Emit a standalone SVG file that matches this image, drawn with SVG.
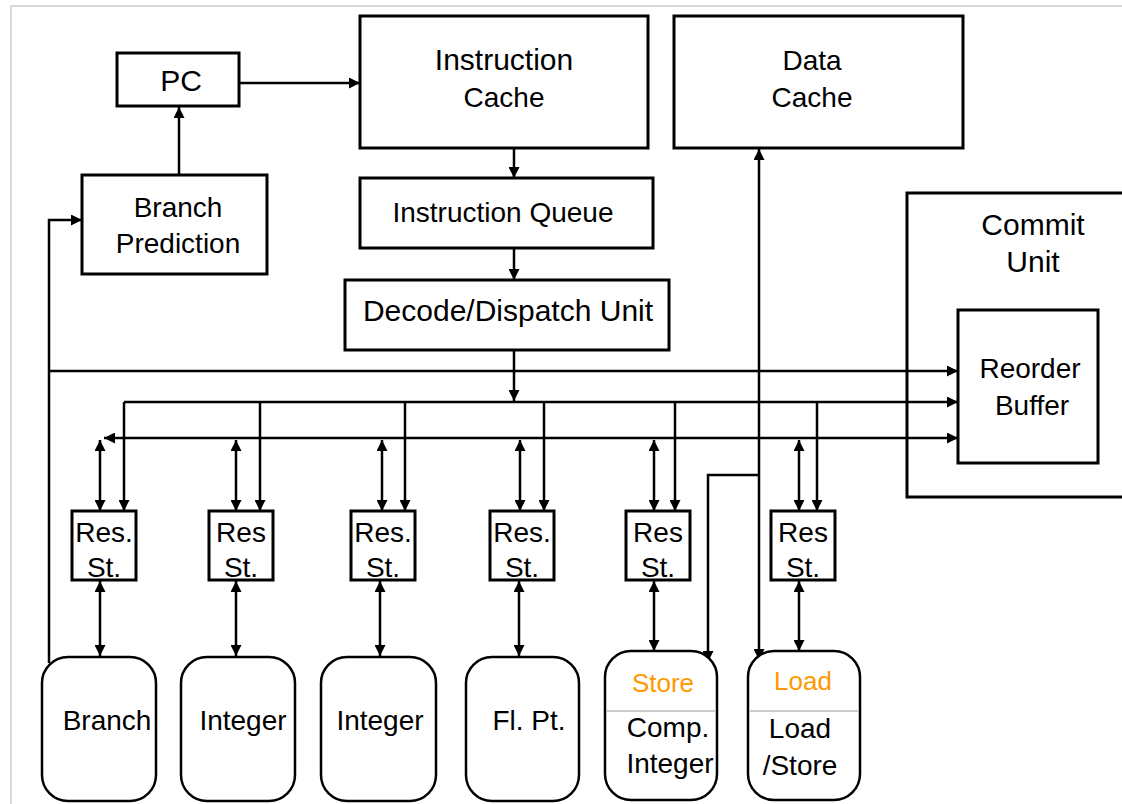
<svg xmlns="http://www.w3.org/2000/svg" width="1122" height="804" viewBox="0 0 1122 804">
<style>
.box{fill:#fff;stroke:#000;stroke-width:3}
.unit{fill:#fff;stroke:#000;stroke-width:2.5}
.ln{fill:none;stroke:#000;stroke-width:2.5}
.t{font-family:"Liberation Sans",Arial,sans-serif;font-size:28px;fill:#000;text-anchor:middle}
.big{font-size:30px}
.or{fill:#FF9900;font-size:26px}
.div{stroke:#bbb;stroke-width:1.5}
</style>
<defs>
<marker id="ah" markerUnits="userSpaceOnUse" markerWidth="11" markerHeight="11" refX="10" refY="5" orient="auto-start-reverse" viewBox="0 0 10 10">
<path d="M0,0 L10,5 L0,10 z" fill="#000"/>
</marker>
</defs>
<rect x="0" y="0" width="1122" height="804" fill="#fff"/>
<path d="M11,804 V6 H1122" fill="none" stroke="#ccc" stroke-width="1.5"/>

<g id="connectors">
<line class="ln" x1="239" y1="83" x2="360" y2="83" marker-end="url(#ah)"/>
<line class="ln" x1="179" y1="175" x2="179" y2="107" marker-end="url(#ah)"/>
<path class="ln" d="M49,663 V220 H82" marker-end="url(#ah)"/>
<line class="ln" x1="514" y1="148" x2="514" y2="178" marker-end="url(#ah)"/>
<line class="ln" x1="514" y1="248" x2="514" y2="280" marker-end="url(#ah)"/>
<line class="ln" x1="514" y1="350" x2="514" y2="401" marker-end="url(#ah)"/>
<line class="ln" x1="49" y1="371" x2="958" y2="371" marker-end="url(#ah)"/>
<line class="ln" x1="124" y1="402" x2="958" y2="402" marker-end="url(#ah)"/>
<line class="ln" x1="104" y1="438" x2="958" y2="438" marker-start="url(#ah)" marker-end="url(#ah)"/>
<line class="ln" x1="759" y1="660" x2="759" y2="149" marker-start="url(#ah)" marker-end="url(#ah)"/>
<path class="ln" d="M759,475 H708 V662" marker-end="url(#ah)"/>
<!-- bus2 drops -->
<line class="ln" x1="124" y1="402" x2="124" y2="511" marker-end="url(#ah)"/>
<line class="ln" x1="260" y1="402" x2="260" y2="511" marker-end="url(#ah)"/>
<line class="ln" x1="405" y1="402" x2="405" y2="511" marker-end="url(#ah)"/>
<line class="ln" x1="544" y1="402" x2="544" y2="511" marker-end="url(#ah)"/>
<line class="ln" x1="675" y1="402" x2="675" y2="511" marker-end="url(#ah)"/>
<line class="ln" x1="817" y1="402" x2="817" y2="511" marker-end="url(#ah)"/>
<!-- bus3 bidirectional -->
<line class="ln" x1="100" y1="440" x2="100" y2="511" marker-start="url(#ah)" marker-end="url(#ah)"/>
<line class="ln" x1="236" y1="440" x2="236" y2="511" marker-start="url(#ah)" marker-end="url(#ah)"/>
<line class="ln" x1="382" y1="440" x2="382" y2="511" marker-start="url(#ah)" marker-end="url(#ah)"/>
<line class="ln" x1="520" y1="440" x2="520" y2="511" marker-start="url(#ah)" marker-end="url(#ah)"/>
<line class="ln" x1="654" y1="440" x2="654" y2="511" marker-start="url(#ah)" marker-end="url(#ah)"/>
<line class="ln" x1="799" y1="440" x2="799" y2="511" marker-start="url(#ah)" marker-end="url(#ah)"/>
<!-- RS to units -->
<line class="ln" x1="100" y1="581" x2="100" y2="656" marker-start="url(#ah)" marker-end="url(#ah)"/>
<line class="ln" x1="236" y1="581" x2="236" y2="656" marker-start="url(#ah)" marker-end="url(#ah)"/>
<line class="ln" x1="380" y1="581" x2="380" y2="656" marker-start="url(#ah)" marker-end="url(#ah)"/>
<line class="ln" x1="519" y1="581" x2="519" y2="656" marker-start="url(#ah)" marker-end="url(#ah)"/>
<line class="ln" x1="654" y1="581" x2="654" y2="651" marker-start="url(#ah)" marker-end="url(#ah)"/>
<line class="ln" x1="799" y1="581" x2="799" y2="651" marker-start="url(#ah)" marker-end="url(#ah)"/>
</g>

<g id="pc"><rect class="box" x="117" y="53" width="122" height="53"/><text class="t big" x="181" y="91">PC</text></g>
<g id="branch-prediction"><rect class="box" x="82" y="175" width="185" height="99"/><text class="t" x="178" y="217">Branch</text><text class="t" x="178" y="253">Prediction</text></g>
<g id="instruction-cache"><rect class="box" x="360" y="16" width="288" height="132"/><text class="t big" x="504" y="70">Instruction</text><text class="t" x="504" y="107">Cache</text></g>
<g id="instruction-queue"><rect class="box" x="360" y="178" width="293" height="70"/><text class="t" x="503" y="222">Instruction Queue</text></g>
<g id="decode-dispatch"><rect class="box" x="345" y="280" width="324" height="70"/><text class="t big" x="508" y="321">Decode/Dispatch Unit</text></g>
<g id="data-cache"><rect class="box" x="674" y="16" width="289" height="132"/><text class="t" x="812" y="70">Data</text><text class="t" x="812" y="107">Cache</text></g>
<g id="commit-unit"><rect class="box" x="907" y="193" width="230" height="304" style="fill:none"/><text class="t big" x="1033" y="235">Commit</text><text class="t big" x="1033" y="272">Unit</text></g>
<g id="reorder-buffer"><rect class="box" x="958" y="310" width="140" height="153"/><text class="t" x="1030" y="378">Reorder</text><text class="t" x="1032" y="415">Buffer</text></g>

<g id="rs1"><rect class="box" x="72" y="511" width="64" height="69"/><text class="t" x="104" y="542">Res.</text><text class="t" x="104" y="577">St.</text></g>
<g id="rs2"><rect class="box" x="209" y="511" width="64" height="69"/><text class="t" x="241" y="542">Res</text><text class="t" x="241" y="577">St.</text></g>
<g id="rs3"><rect class="box" x="351" y="511" width="64" height="69"/><text class="t" x="383" y="542">Res.</text><text class="t" x="383" y="577">St.</text></g>
<g id="rs4"><rect class="box" x="490" y="511" width="64" height="69"/><text class="t" x="522" y="542">Res.</text><text class="t" x="522" y="577">St.</text></g>
<g id="rs5"><rect class="box" x="626" y="511" width="64" height="69"/><text class="t" x="658" y="542">Res</text><text class="t" x="658" y="577">St.</text></g>
<g id="rs6"><rect class="box" x="771" y="511" width="64" height="69"/><text class="t" x="803" y="542">Res</text><text class="t" x="803" y="577">St.</text></g>

<g id="unit-branch"><rect class="unit" x="42" y="657" width="114" height="144" rx="26"/><text class="t" x="107" y="730">Branch</text></g>
<g id="unit-integer1"><rect class="unit" x="181" y="657" width="114" height="144" rx="26"/><text class="t" x="243" y="730">Integer</text></g>
<g id="unit-integer2"><rect class="unit" x="321" y="657" width="115" height="144" rx="26"/><text class="t" x="380" y="730">Integer</text></g>
<g id="unit-fpt"><rect class="unit" x="466" y="657" width="113" height="144" rx="26"/><text class="t" x="529" y="730">Fl. Pt.</text></g>
<g id="unit-store"><rect class="unit" x="605" y="651" width="112" height="149" rx="26"/><line class="div" x1="606" y1="711" x2="716" y2="711"/><text class="t or" x="663" y="692">Store</text><text class="t" x="668" y="737">Comp.</text><text class="t" x="670" y="773">Integer</text></g>
<g id="unit-load"><rect class="unit" x="748" y="651" width="112" height="149" rx="26"/><line class="div" x1="749" y1="711" x2="859" y2="711"/><text class="t or" x="803" y="690">Load</text><text class="t" x="800" y="738">Load</text><text class="t" x="800" y="775">/Store</text></g>
</svg>
